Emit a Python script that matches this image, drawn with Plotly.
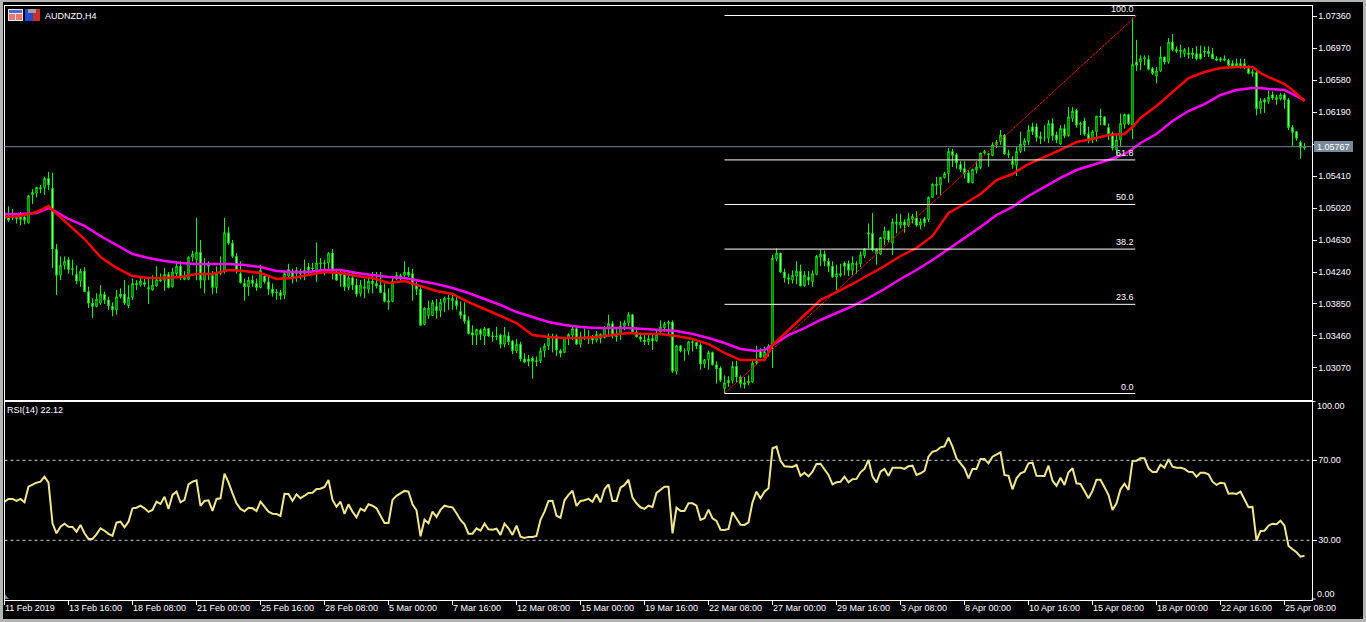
import plotly.graph_objects as go

W, H = 1366, 622

opens = [
1.0496,1.0491,1.0491,1.0492,1.0492,1.0491,1.0484,1.0518,1.0520,1.0525,
1.0527,1.0538,1.0526,1.0452,1.0420,1.0432,1.0439,1.0428,1.0421,1.0413,
1.0425,1.0400,1.0386,1.0382,1.0386,1.0397,1.0390,1.0382,1.0378,1.0397,
1.0397,1.0383,1.0393,1.0408,1.0408,1.0411,1.0403,1.0402,1.0407,1.0415,
1.0414,1.0421,1.0406,1.0422,1.0431,1.0415,1.0415,1.0442,1.0439,1.0448,
1.0414,1.0431,1.0420,1.0405,1.0422,1.0426,1.0472,1.0459,1.0443,1.0422,
1.0410,1.0406,1.0414,1.0410,1.0405,1.0419,1.0412,1.0403,1.0400,1.0399,
1.0396,1.0419,1.0424,1.0422,1.0424,1.0422,1.0430,1.0429,1.0424,1.0434,
1.0434,1.0435,1.0447,1.0423,1.0423,1.0422,1.0405,1.0417,1.0408,1.0398,
1.0404,1.0403,1.0413,1.0410,1.0408,1.0399,1.0387,1.0388,1.0416,1.0416,
1.0420,1.0424,1.0422,1.0408,1.0403,1.0360,1.0371,1.0371,1.0382,1.0377,
1.0387,1.0391,1.0389,1.0389,1.0376,1.0372,1.0365,1.0350,1.0347,1.0353,
1.0346,1.0355,1.0345,1.0345,1.0347,1.0336,1.0346,1.0340,1.0328,1.0336,
1.0318,1.0318,1.0319,1.0316,1.0316,1.0328,1.0334,1.0344,1.0346,1.0328,
1.0326,1.0343,1.0347,1.0355,1.0336,1.0343,1.0344,1.0345,1.0341,1.0348,
1.0344,1.0355,1.0361,1.0345,1.0348,1.0358,1.0362,1.0372,1.0350,1.0345,
1.0341,1.0339,1.0343,1.0340,1.0351,1.0356,1.0361,1.0363,1.0303,1.0334,
1.0328,1.0328,1.0338,1.0338,1.0335,1.0312,1.0317,1.0326,1.0311,1.0307,
1.0282,1.0292,1.0292,1.0309,1.0296,1.0289,1.0289,1.0290,1.0313,1.0327,
1.0320,1.0327,1.0335,1.0440,1.0447,1.0424,1.0417,1.0414,1.0419,1.0425,
1.0407,1.0418,1.0412,1.0421,1.0442,1.0446,1.0437,1.0431,1.0418,1.0420,
1.0435,1.0434,1.0426,1.0433,1.0434,1.0444,1.0470,1.0471,1.0446,1.0446,
1.0465,1.0474,1.0459,1.0483,1.0481,1.0485,1.0481,1.0488,1.0490,1.0481,
1.0489,1.0488,1.0515,1.0529,1.0530,1.0539,1.0544,1.0571,1.0567,1.0555,
1.0550,1.0545,1.0533,1.0548,1.0551,1.0569,1.0567,1.0566,1.0579,1.0583,
1.0591,1.0567,1.0559,1.0554,1.0571,1.0579,1.0583,1.0601,1.0601,1.0589,
1.0587,1.0587,1.0605,1.0591,1.0580,1.0599,1.0590,1.0611,1.0621,1.0605,
1.0608,1.0592,1.0586,1.0595,1.0614,1.0613,1.0600,1.0593,1.0573,1.0585,
1.0604,1.0616,1.0603,1.0680,1.0680,1.0684,1.0683,1.0672,1.0663,1.0669,
1.0686,1.0680,1.0704,1.0695,1.0694,1.0690,1.0691,1.0691,1.0690,1.0690,
1.0693,1.0693,1.0690,1.0684,1.0682,1.0682,1.0682,1.0678,1.0678,1.0678,
1.0678,1.0672,1.0666,1.0667,1.0623,1.0634,1.0632,1.0640,1.0634,1.0635,
1.0640,1.0634,1.0600,1.0595,1.0582,1.0575]

highs = [
1.0508,1.0504,1.0501,1.0495,1.0497,1.0495,1.0518,1.0525,1.0528,1.0530,
1.0540,1.0546,1.0545,1.0458,1.0443,1.0443,1.0442,1.0439,1.0432,1.0428,
1.0430,1.0406,1.0392,1.0398,1.0408,1.0400,1.0394,1.0387,1.0402,1.0404,
1.0414,1.0408,1.0416,1.0414,1.0417,1.0416,1.0417,1.0420,1.0431,1.0422,
1.0429,1.0424,1.0429,1.0437,1.0437,1.0425,1.0443,1.0450,1.0490,1.0463,
1.0441,1.0437,1.0425,1.0431,1.0443,1.0490,1.0479,1.0463,1.0447,1.0437,
1.0416,1.0418,1.0420,1.0416,1.0433,1.0422,1.0418,1.0410,1.0403,1.0402,
1.0426,1.0434,1.0428,1.0430,1.0428,1.0439,1.0435,1.0435,1.0460,1.0441,
1.0439,1.0448,1.0452,1.0428,1.0426,1.0424,1.0422,1.0424,1.0416,1.0414,
1.0416,1.0418,1.0424,1.0424,1.0424,1.0410,1.0404,1.0418,1.0424,1.0422,
1.0437,1.0430,1.0428,1.0412,1.0406,1.0381,1.0389,1.0390,1.0391,1.0391,
1.0394,1.0396,1.0398,1.0394,1.0388,1.0387,1.0370,1.0359,1.0355,1.0355,
1.0357,1.0355,1.0351,1.0357,1.0349,1.0357,1.0351,1.0341,1.0342,1.0339,
1.0325,1.0323,1.0321,1.0321,1.0332,1.0337,1.0349,1.0349,1.0348,1.0330,
1.0345,1.0349,1.0358,1.0357,1.0351,1.0355,1.0353,1.0347,1.0352,1.0349,
1.0358,1.0372,1.0364,1.0355,1.0364,1.0365,1.0375,1.0373,1.0357,1.0347,
1.0349,1.0348,1.0349,1.0352,1.0365,1.0363,1.0365,1.0365,1.0335,1.0335,
1.0331,1.0340,1.0341,1.0339,1.0337,1.0318,1.0328,1.0327,1.0315,1.0309,
1.0298,1.0297,1.0315,1.0316,1.0298,1.0296,1.0298,1.0316,1.0334,1.0331,
1.0333,1.0336,1.0445,1.0453,1.0447,1.0428,1.0422,1.0426,1.0437,1.0433,
1.0425,1.0425,1.0426,1.0445,1.0451,1.0450,1.0441,1.0437,1.0433,1.0434,
1.0437,1.0438,1.0443,1.0437,1.0449,1.0453,1.0483,1.0496,1.0453,1.0466,
1.0479,1.0475,1.0489,1.0495,1.0495,1.0488,1.0496,1.0495,1.0498,1.0489,
1.0491,1.0516,1.0532,1.0540,1.0540,1.0546,1.0575,1.0574,1.0569,1.0559,
1.0559,1.0548,1.0550,1.0559,1.0569,1.0573,1.0569,1.0582,1.0585,1.0597,
1.0592,1.0573,1.0565,1.0577,1.0595,1.0587,1.0603,1.0606,1.0605,1.0595,
1.0603,1.0609,1.0611,1.0595,1.0603,1.0604,1.0625,1.0625,1.0623,1.0607,
1.0612,1.0601,1.0597,1.0614,1.0623,1.0614,1.0605,1.0595,1.0593,1.0617,
1.0617,1.0617,1.0734,1.0707,1.0688,1.0688,1.0688,1.0674,1.0674,1.0699,
1.0686,1.0709,1.0714,1.0699,1.0701,1.0697,1.0698,1.0697,1.0699,1.0700,
1.0699,1.0699,1.0697,1.0687,1.0686,1.0688,1.0684,1.0682,1.0684,1.0684,
1.0684,1.0676,1.0671,1.0672,1.0636,1.0636,1.0645,1.0644,1.0640,1.0642,
1.0642,1.0636,1.0603,1.0596,1.0584,1.0581]

lows = [
1.0487,1.0485,1.0487,1.0483,1.0481,1.0482,1.0483,1.0507,1.0515,1.0520,
1.0518,1.0524,1.0429,1.0396,1.0414,1.0427,1.0422,1.0420,1.0409,1.0406,
1.0400,1.0380,1.0368,1.0381,1.0384,1.0385,1.0378,1.0370,1.0372,1.0392,
1.0384,1.0380,1.0390,1.0402,1.0406,1.0406,1.0385,1.0401,1.0406,1.0412,
1.0401,1.0404,1.0405,1.0418,1.0414,1.0414,1.0414,1.0437,1.0414,1.0404,
1.0398,1.0414,1.0397,1.0398,1.0420,1.0422,1.0457,1.0441,1.0422,1.0410,
1.0389,1.0395,1.0406,1.0401,1.0404,1.0410,1.0396,1.0394,1.0390,1.0390,
1.0391,1.0416,1.0410,1.0412,1.0415,1.0414,1.0420,1.0424,1.0412,1.0422,
1.0420,1.0424,1.0415,1.0413,1.0406,1.0401,1.0402,1.0402,1.0394,1.0394,
1.0392,1.0398,1.0398,1.0404,1.0398,1.0387,1.0378,1.0387,1.0414,1.0414,
1.0418,1.0418,1.0389,1.0396,1.0358,1.0359,1.0367,1.0371,1.0367,1.0369,
1.0375,1.0378,1.0378,1.0378,1.0367,1.0361,1.0348,1.0335,1.0335,1.0341,
1.0335,1.0345,1.0339,1.0341,1.0331,1.0332,1.0335,1.0324,1.0325,1.0315,
1.0313,1.0309,1.0294,1.0309,1.0313,1.0320,1.0329,1.0326,1.0322,1.0320,
1.0325,1.0335,1.0341,1.0335,1.0332,1.0341,1.0336,1.0336,1.0338,1.0337,
1.0343,1.0345,1.0343,1.0339,1.0341,1.0353,1.0358,1.0349,1.0344,1.0339,
1.0335,1.0335,1.0329,1.0339,1.0347,1.0351,1.0346,1.0301,1.0299,1.0326,
1.0316,1.0323,1.0327,1.0330,1.0305,1.0307,1.0305,1.0310,1.0288,1.0290,
1.0276,1.0284,1.0288,1.0289,1.0283,1.0282,1.0286,1.0289,1.0311,1.0319,
1.0315,1.0321,1.0307,1.0437,1.0423,1.0411,1.0409,1.0410,1.0409,1.0407,
1.0406,1.0408,1.0406,1.0420,1.0431,1.0431,1.0424,1.0417,1.0402,1.0418,
1.0420,1.0419,1.0420,1.0422,1.0430,1.0441,1.0453,1.0449,1.0433,1.0445,
1.0457,1.0460,1.0445,1.0471,1.0477,1.0472,1.0479,1.0483,1.0479,1.0476,
1.0479,1.0485,1.0514,1.0518,1.0518,1.0538,1.0533,1.0552,1.0550,1.0546,
1.0538,1.0532,1.0532,1.0544,1.0549,1.0567,1.0552,1.0565,1.0575,1.0579,
1.0567,1.0563,1.0550,1.0541,1.0569,1.0571,1.0579,1.0591,1.0583,1.0580,
1.0583,1.0581,1.0584,1.0581,1.0579,1.0587,1.0589,1.0607,1.0600,1.0591,
1.0590,1.0581,1.0581,1.0583,1.0603,1.0603,1.0585,1.0572,1.0562,1.0577,
1.0599,1.0603,1.0586,1.0669,1.0670,1.0676,1.0670,1.0664,1.0654,1.0668,
1.0677,1.0678,1.0693,1.0691,1.0685,1.0686,1.0684,1.0684,1.0682,1.0683,
1.0686,1.0686,1.0684,1.0681,1.0680,1.0681,1.0674,1.0674,1.0674,1.0672,
1.0671,1.0665,1.0662,1.0615,1.0617,1.0618,1.0629,1.0634,1.0628,1.0633,
1.0623,1.0597,1.0577,1.0584,1.0562,1.0573]

closes = [
1.0489,1.0487,1.0490,1.0489,1.0488,1.0487,1.0517,1.0521,1.0527,1.0527,
1.0538,1.0530,1.0452,1.0420,1.0432,1.0437,1.0427,1.0427,1.0413,1.0425,
1.0400,1.0386,1.0382,1.0391,1.0397,1.0390,1.0383,1.0378,1.0394,1.0394,
1.0386,1.0393,1.0410,1.0410,1.0413,1.0409,1.0405,1.0408,1.0415,1.0413,
1.0421,1.0405,1.0424,1.0431,1.0417,1.0418,1.0442,1.0446,1.0448,1.0414,
1.0423,1.0433,1.0405,1.0422,1.0424,1.0472,1.0459,1.0443,1.0426,1.0411,
1.0406,1.0414,1.0410,1.0405,1.0426,1.0412,1.0403,1.0398,1.0399,1.0395,
1.0422,1.0427,1.0418,1.0426,1.0422,1.0426,1.0426,1.0428,1.0435,1.0435,
1.0435,1.0447,1.0424,1.0414,1.0420,1.0406,1.0417,1.0408,1.0397,1.0408,
1.0406,1.0413,1.0410,1.0407,1.0399,1.0388,1.0389,1.0413,1.0420,1.0420,
1.0424,1.0420,1.0408,1.0403,1.0359,1.0380,1.0380,1.0387,1.0377,1.0387,
1.0392,1.0392,1.0392,1.0383,1.0371,1.0364,1.0349,1.0347,1.0354,1.0348,
1.0355,1.0346,1.0346,1.0346,1.0336,1.0347,1.0339,1.0328,1.0336,1.0318,
1.0314,1.0315,1.0315,1.0315,1.0328,1.0334,1.0344,1.0345,1.0329,1.0325,
1.0344,1.0348,1.0355,1.0336,1.0345,1.0345,1.0345,1.0341,1.0348,1.0343,
1.0356,1.0361,1.0347,1.0347,1.0358,1.0362,1.0372,1.0351,1.0345,1.0342,
1.0339,1.0343,1.0340,1.0348,1.0357,1.0361,1.0363,1.0303,1.0334,1.0328,
1.0328,1.0339,1.0339,1.0334,1.0312,1.0317,1.0326,1.0311,1.0306,1.0292,
1.0289,1.0289,1.0309,1.0296,1.0288,1.0287,1.0291,1.0313,1.0315,1.0320,
1.0327,1.0334,1.0441,1.0447,1.0424,1.0417,1.0415,1.0420,1.0425,1.0407,
1.0420,1.0414,1.0422,1.0443,1.0446,1.0437,1.0431,1.0418,1.0422,1.0422,
1.0431,1.0426,1.0435,1.0434,1.0445,1.0452,1.0472,1.0451,1.0451,1.0466,
1.0474,1.0463,1.0485,1.0485,1.0485,1.0481,1.0489,1.0492,1.0481,1.0485,
1.0484,1.0515,1.0531,1.0531,1.0539,1.0544,1.0571,1.0566,1.0557,1.0549,
1.0544,1.0533,1.0549,1.0552,1.0569,1.0571,1.0568,1.0579,1.0582,1.0591,
1.0568,1.0568,1.0555,1.0571,1.0580,1.0584,1.0597,1.0595,1.0588,1.0587,
1.0587,1.0605,1.0590,1.0585,1.0599,1.0590,1.0613,1.0620,1.0603,1.0604,
1.0592,1.0586,1.0595,1.0614,1.0613,1.0603,1.0592,1.0575,1.0585,1.0605,
1.0616,1.0605,1.0677,1.0676,1.0684,1.0685,1.0671,1.0666,1.0669,1.0686,
1.0680,1.0704,1.0695,1.0693,1.0693,1.0695,1.0689,1.0689,1.0684,1.0684,
1.0692,1.0690,1.0684,1.0682,1.0684,1.0684,1.0676,1.0675,1.0675,1.0675,
1.0674,1.0666,1.0668,1.0623,1.0632,1.0631,1.0637,1.0636,1.0637,1.0640,
1.0634,1.0600,1.0594,1.0587,1.0576,1.05767]

ma_bars = [0,4,8,11,12,16,20,24,28,32,36,40,44,48,52,56,60,64,68,72,76,80,84,88,92,96,
           100,104,108,112,116,120,124,128,132,136,140,144,148,152,156,160,164,168,172,176,
           180,184,188,190,192,196,200,204,208,212,216,220,224,228,232,236,240,244,248,252,
           256,260,264,268,272,276,280,282,284,288,292,296,300,304,308,312,314,316,320,322,325]

ma_red = [1.04910,1.04922,1.04971,1.05044,1.04996,1.04825,1.04642,1.04423,1.04289,1.04191,1.04167,1.04167,
          1.04179,1.04216,1.04216,1.04264,1.04252,1.04228,1.04155,1.04167,1.04203,1.04240,1.04228,1.04191,
          1.04167,1.04106,1.04130,1.04069,1.04008,1.03972,1.03874,1.03789,1.03704,1.03618,1.03472,1.03448,
          1.03435,1.03435,1.03448,1.03472,1.03496,1.03484,1.03484,1.03460,1.03423,1.03362,1.03253,1.03167,
          1.03167,1.03167,1.03350,1.03533,1.03704,1.03899,1.03996,1.04094,1.04203,1.04313,1.04435,1.04532,
          1.04679,1.04959,1.05069,1.05191,1.05361,1.05434,1.05556,1.05642,1.05727,1.05824,1.05861,1.05910,
          1.05922,1.06007,1.06117,1.06263,1.06434,1.06604,1.06677,1.06726,1.06738,1.06738,1.06665,1.06616,
          1.06531,1.06458,1.06324]

ma_magenta = [1.04947,1.04947,1.04959,1.05020,1.04996,1.04886,1.04801,1.04679,1.04569,1.04459,1.04411,1.04374,
              1.04350,1.04338,1.04338,1.04338,1.04325,1.04301,1.04252,1.04240,1.04240,1.04264,1.04264,1.04228,
              1.04203,1.04179,1.04167,1.04130,1.04094,1.04045,1.03984,1.03911,1.03838,1.03752,1.03691,1.03630,
              1.03594,1.03570,1.03557,1.03557,1.03557,1.03545,1.03533,1.03521,1.03484,1.03435,1.03375,1.03301,
              1.03277,1.03289,1.03350,1.03472,1.03557,1.03655,1.03740,1.03825,1.03923,1.04033,1.04155,1.04264,
              1.04386,1.04520,1.04654,1.04788,1.04935,1.05032,1.05166,1.05276,1.05386,1.05483,1.05544,1.05605,
              1.05678,1.05739,1.05812,1.05922,1.06080,1.06202,1.06287,1.06397,1.06458,1.06482,1.06482,1.06470,
              1.06458,1.06409,1.06336]

rsi = [
49.3,50.7,50.7,49.7,50.7,49.0,56.8,58.0,58.8,59.3,
61.8,58.8,38.5,33.5,36.8,38.3,36.8,36.7,34.3,37.7,
33.5,30.7,30.7,33.0,36.0,34.8,33.2,32.2,38.8,39.3,
36.5,39.3,46.0,46.3,47.3,46.0,44.2,45.2,49.3,48.2,
51.8,45.7,52.7,54.3,49.0,50.2,58.0,59.3,60.0,47.2,
49.7,50.0,44.7,50.7,51.0,63.3,59.0,53.5,48.5,45.7,
44.5,46.3,46.0,44.7,49.3,46.8,44.3,43.3,43.2,42.2,
53.3,53.2,49.7,53.0,51.0,52.3,53.7,53.8,55.7,55.8,
56.7,60.2,50.2,46.8,49.3,43.2,48.0,44.3,41.5,45.8,
44.7,48.0,47.3,46.0,42.3,38.7,38.7,50.2,52.2,53.3,
54.7,54.3,48.0,45.0,32.0,40.3,38.5,44.3,41.7,45.2,
47.3,46.8,46.5,43.5,40.2,38.0,33.3,33.3,36.0,34.8,
38.3,35.5,35.3,35.8,32.7,38.3,36.0,32.7,37.3,31.8,
31.2,31.7,31.7,32.2,40.2,44.3,49.7,49.8,42.3,41.3,
50.0,52.7,54.8,47.2,49.7,50.0,50.7,49.3,53.0,49.0,
55.5,58.0,49.7,49.7,56.3,57.7,60.3,51.3,48.5,46.5,
45.7,47.3,46.7,53.7,55.2,56.8,56.8,33.5,46.3,44.7,
44.7,48.5,48.5,47.3,40.2,41.0,45.3,41.0,39.7,35.3,
35.2,35.7,44.0,40.7,37.8,37.7,39.0,49.0,54.3,51.0,
54.3,56.0,76.0,76.8,69.8,67.0,66.7,66.7,67.7,62.2,
63.8,62.0,64.3,68.2,68.3,65.2,62.7,58.0,59.0,59.3,
61.8,59.0,60.5,60.7,64.0,65.7,70.2,61.8,59.0,64.3,
65.7,62.2,66.3,66.3,66.3,65.7,67.0,67.3,62.7,63.5,
64.7,71.8,74.3,74.8,76.5,77.0,81.3,76.8,71.0,68.5,
66.0,61.0,65.7,65.7,70.7,70.7,68.5,71.8,72.7,74.0,
62.7,62.2,55.5,61.0,63.5,64.3,68.5,68.8,62.3,62.3,
62.2,67.3,59.8,57.2,61.3,57.7,64.0,66.0,58.5,58.2,
54.3,51.0,54.7,60.3,60.3,56.8,52.7,45.2,48.5,55.5,
58.3,55.2,69.7,69.8,71.0,71.0,66.0,64.2,64.2,67.8,
66.3,70.5,66.8,66.3,66.3,65.7,64.3,64.2,61.8,63.8,
63.8,63.0,59.3,57.7,58.8,58.5,53.3,53.5,53.2,54.3,
50.2,46.5,46.7,29.7,34.7,34.8,37.3,38.3,38.0,39.8,
37.3,27.2,25.5,24.0,21.8,22.3]

assert len(opens) == len(highs) == len(lows) == len(closes) == len(rsi) == 326
assert len(ma_bars) == len(ma_red) == len(ma_magenta)

price_ticks = [1.07360,1.06970,1.06580,1.06190,1.05800,1.05410,1.05020,1.04630,1.04240,1.03850,1.03460,1.03070]
rsi_ticks = [30, 70]
date_labels = ["11 Feb 2019","13 Feb 16:00","18 Feb 08:00","21 Feb 00:00","25 Feb 16:00","28 Feb 08:00",
               "5 Mar 00:00","7 Mar 16:00","12 Mar 08:00","15 Mar 00:00","19 Mar 16:00","22 Mar 08:00",
               "27 Mar 00:00","29 Mar 16:00","3 Apr 08:00","8 Apr 00:00","10 Apr 16:00","15 Apr 08:00",
               "18 Apr 00:00","22 Apr 16:00","25 Apr 08:00"]
fib_names = ["0.0","23.6","38.2","50.0","61.8","100.0"]
fib_levels = [1.02759,1.03846,1.04519,1.05063,1.05606,1.07366]
fib_bars = [180, 282.7]
trend_bars = [180, 283]
trend_prices = [1.02759, 1.07366]
last_price = 1.05767

bars = list(range(len(opens)))
date_bars = bars[::16]

FONT = "Liberation Sans"
FS = 9
px = lambda x: x / W
py = lambda y: 1 - y / H

x_range = [0, 326.75]
y_range = [1.02686, 1.07488]
rsi_range = [0.4, 99.4]

fig = go.Figure()
fig.add_trace(go.Candlestick(
    x=bars, open=opens, high=highs, low=lows, close=closes,
    xaxis="x", yaxis="y", whiskerwidth=0, hoverinfo="skip", showlegend=False,
    increasing=dict(line=dict(color="#00ff00", width=1), fillcolor="#000000"),
    decreasing=dict(line=dict(color="#00ff00", width=1), fillcolor="#ffffff"),
))
fig.add_trace(go.Scatter(x=trend_bars, y=trend_prices, mode="lines", xaxis="x", yaxis="y",
                         line=dict(color="#ff0000", width=1, dash="3px,1px"), hoverinfo="skip", showlegend=False))
fig.add_trace(go.Scatter(x=ma_bars, y=ma_magenta, mode="lines", xaxis="x", yaxis="y",
                         line=dict(color="#ff00ff", width=2.5), hoverinfo="skip", showlegend=False))
fig.add_trace(go.Scatter(x=ma_bars, y=ma_red, mode="lines", xaxis="x", yaxis="y",
                         line=dict(color="#ff0000", width=2.5), hoverinfo="skip", showlegend=False))
fig.add_trace(go.Scatter(x=bars, y=rsi, mode="lines", xaxis="x2", yaxis="y2",
                         line=dict(color="#f0e68c", width=2), hoverinfo="skip", showlegend=False))

shapes = []
# window frame
for x0, y0, x1, y1 in [(0, 0, W, 2), (0, 619, W, H), (0, 0, 3, H), (1363, 0, W, H)]:
    shapes.append(dict(type="rect", xref="paper", yref="paper", x0=px(x0), x1=px(x1), y0=py(y0), y1=py(y1),
                       fillcolor="#b4b4b4", line=dict(width=0), layer="above"))
# fibonacci levels
for lv in fib_levels:
    shapes.append(dict(type="line", xref="x", yref="y", x0=fib_bars[0], x1=fib_bars[1], y0=lv, y1=lv,
                       line=dict(color="#ffffff", width=1), layer="above"))
# current price line
shapes.append(dict(type="line", xref="paper", yref="y", x0=px(4.5), x1=px(1311.5), y0=last_price, y1=last_price,
                   line=dict(color="#778899", width=1), layer="above"))
# RSI level lines
for lv in rsi_ticks:
    shapes.append(dict(type="line", xref="paper", yref="y2", x0=px(4.5), x1=px(1311.5), y0=lv, y1=lv,
                       line=dict(color="#c8c8c8", width=1, dash="3px,3px"), layer="above"))
# RSI clamped ticks
for yy in (401.5, 599):
    shapes.append(dict(type="line", xref="paper", yref="paper", x0=px(1311.5), x1=px(1315.5), y0=py(yy), y1=py(yy),
                       line=dict(color="#ffffff", width=1), layer="above"))
# last price tag
shapes.append(dict(type="rect", xref="paper", yref="paper", x0=px(1314), x1=px(1353), y0=py(141), y1=py(152),
                   fillcolor="#778899", line=dict(width=0), layer="above"))
# corner marker
shapes.append(dict(type="path", xref="paper", yref="paper", layer="above", fillcolor="#778899", line=dict(width=0),
                   path=f"M {px(5)} {py(594.5)} L {px(9)} {py(599)} L {px(5)} {py(599)} Z"))
# toolbar icons
for x0, y0, x1, y1, c in [(8, 9, 23, 21, "#e8e8f0"), (9, 10, 22, 13, "#5868c8"), (9, 14, 15, 20, "#e8786c"),
                          (16, 14, 22, 20, "#e8786c"),
                          (25, 9, 33, 21, "#2848d8"), (33, 9, 40, 21, "#c83028"), (28, 9, 36, 13, "#a0a0a0")]:
    shapes.append(dict(type="rect", xref="paper", yref="paper", x0=px(x0), x1=px(x1), y0=py(y0), y1=py(y1),
                       fillcolor=c, line=dict(width=0), layer="above"))

ann = []
font = dict(family=FONT, size=FS, color="#ffffff")
def label(text, xpx, ypx, anchor="left"):
    ann.append(dict(text=text, xref="paper", yref="paper", x=px(xpx), y=py(ypx), xanchor=anchor, yanchor="middle",
                    showarrow=False, font=font, borderpad=0, borderwidth=0))

label("AUDNZD,H4", 45, 15.5)
label("RSI(14) 22.12", 7, 410)
label("1.05767", 1317, 146.5)
label("100.00", 1317, 406)
label("0.00", 1317, 594)
for name, lv in zip(fib_names, fib_levels):
    ann.append(dict(text=name, xref="x", yref="y", x=fib_bars[1], y=lv, xanchor="right", yanchor="bottom",
                    showarrow=False, font=font, borderpad=0, yshift=1))
for b, t in zip(date_bars, date_labels):
    ann.append(dict(text=t, xref="x2", yref="paper", x=b, y=py(608), xanchor="left", yanchor="middle",
                    showarrow=False, font=font, borderpad=0, xshift=-1))

axis_line = dict(showline=True, linecolor="#ffffff", linewidth=1, mirror=True, showgrid=False, zeroline=False)
dom_x = [px(4.5), px(1311.5)]
fig.update_layout(
    width=W, height=H, autosize=False, margin=dict(l=0, r=0, t=0, b=0, pad=0),
    paper_bgcolor="#000000", plot_bgcolor="#000000", showlegend=False, hovermode=False,
    font=dict(family=FONT, size=FS, color="#ffffff"),
    boxgap=0.5,
    xaxis=dict(domain=dom_x, range=x_range, anchor="y", showticklabels=False, ticks="",
               rangeslider=dict(visible=False), **axis_line),
    yaxis=dict(domain=[py(399.5), py(5.5)], range=y_range, anchor="x", side="right",
               tickmode="array", tickvals=price_ticks, ticktext=[f"{v:.5f}" for v in price_ticks],
               ticks="outside", ticklen=4, tickcolor="#ffffff", tickwidth=1,
               tickfont=font, **axis_line),
    xaxis2=dict(domain=dom_x, range=x_range, anchor="y2", tickmode="array", tickvals=date_bars,
                ticktext=[""] * len(date_bars), ticks="outside", ticklen=4, tickcolor="#ffffff", tickwidth=1,
                **axis_line),
    yaxis2=dict(domain=[py(599.5), py(401.5)], range=rsi_range, anchor="x2", side="right",
                tickmode="array", tickvals=rsi_ticks, ticktext=[f"{v:.2f}" for v in rsi_ticks],
                ticks="outside", ticklen=4, tickcolor="#ffffff", tickwidth=1,
                tickfont=font, **axis_line),
    shapes=shapes, annotations=ann,
)

fig.write_html("out.html", config=dict(displayModeBar=False, staticPlot=True),
               post_script="document.body.style.margin='0';document.body.style.overflow='hidden';document.documentElement.style.background='#000';")
